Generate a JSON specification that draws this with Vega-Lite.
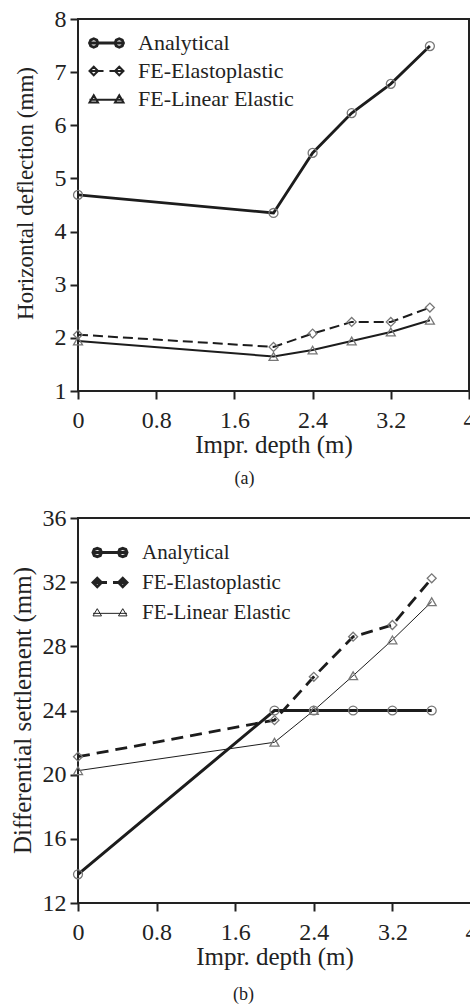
{
  "$schema": "https://vega.github.io/schema/vega-lite/v6.json",
  "padding": {"top": 6, "left": 8, "right": 0, "bottom": 0},
  "spacing": 16,
  "config": {
    "font": "Liberation Serif",
    "view": {"stroke": "#222", "strokeWidth": 2},
    "axis": {"grid": false, "domain": false, "tickColor": "#222", "tickWidth": 2, "tickSize": 8, "labelFont": "Liberation Serif", "labelFontSize": 24, "labelColor": "#222", "labelFlush": false, "labelOverlap": false, "titleFont": "Liberation Serif", "titleFontWeight": "normal", "titleColor": "#222", "titleFontSize": 25, "labelPadding": 4},
    "axisX": {"labelPadding": 9, "titlePadding": 0},
    "line": {"color": "#1c1c1c"},
    "point": {"filled": false, "color": "#777", "size": 80, "strokeWidth": 1.3, "opacity": 1},
    "legend": {"title": null, "orient": "none", "labelFont": "Liberation Serif", "labelColor": "#222", "symbolSize": 289, "padding": 0, "symbolFillColor": "transparent", "symbolStrokeColor": "#222",
      "symbolType": {"expr": "datum.value == 'Analytical' ? 'M-2,0L2,0M-1,0L-1.146,0.354L-1.5,0.5L-1.854,0.354L-2,0L-1.854,-0.354L-1.5,-0.5L-1.146,-0.354ZM2,0L1.854,0.354L1.5,0.5L1.146,0.354L1,0L1.146,-0.354L1.5,-0.5L1.854,-0.354Z' : (datum.value == 'FE-Elastoplastic' ? 'M-2,0L-0.35,0M0.35,0L2,0M-2,0L-1.5,-0.5L-1,0L-1.5,0.5ZM1,0L1.5,-0.5L2,0L1.5,0.5Z' : 'M-2,0.1L2,0.1M-2,0.4L-1.5,-0.45L-1,0.4ZM1,0.4L1.5,-0.45L2,0.4Z')"}},
    "title": {"font": "Liberation Serif", "fontWeight": "normal", "fontSize": 18, "color": "#222"}
  },
  "datasets": {
    "a": [
      {"series": "Analytical", "depth": 0, "value": 4.69},
      {"series": "Analytical", "depth": 2.0, "value": 4.35},
      {"series": "Analytical", "depth": 2.4, "value": 5.48},
      {"series": "Analytical", "depth": 2.8, "value": 6.23},
      {"series": "Analytical", "depth": 3.2, "value": 6.78},
      {"series": "Analytical", "depth": 3.6, "value": 7.49},
      {"series": "FE-Elastoplastic", "depth": 0, "value": 2.06},
      {"series": "FE-Elastoplastic", "depth": 2.0, "value": 1.83},
      {"series": "FE-Elastoplastic", "depth": 2.4, "value": 2.08},
      {"series": "FE-Elastoplastic", "depth": 2.8, "value": 2.30},
      {"series": "FE-Elastoplastic", "depth": 3.2, "value": 2.30},
      {"series": "FE-Elastoplastic", "depth": 3.6, "value": 2.57},
      {"series": "FE-Linear Elastic", "depth": 0, "value": 1.94},
      {"series": "FE-Linear Elastic", "depth": 2.0, "value": 1.65},
      {"series": "FE-Linear Elastic", "depth": 2.4, "value": 1.77},
      {"series": "FE-Linear Elastic", "depth": 2.8, "value": 1.94},
      {"series": "FE-Linear Elastic", "depth": 3.2, "value": 2.11},
      {"series": "FE-Linear Elastic", "depth": 3.6, "value": 2.33}
    ],
    "b": [
      {"series": "Analytical", "depth": 0, "value": 13.79},
      {"series": "Analytical", "depth": 2.0, "value": 24.0},
      {"series": "Analytical", "depth": 2.4, "value": 24.0},
      {"series": "Analytical", "depth": 2.8, "value": 24.0},
      {"series": "Analytical", "depth": 3.2, "value": 24.0},
      {"series": "Analytical", "depth": 3.6, "value": 24.0},
      {"series": "FE-Elastoplastic", "depth": 0, "value": 21.12},
      {"series": "FE-Elastoplastic", "depth": 2.0, "value": 23.4},
      {"series": "FE-Elastoplastic", "depth": 2.4, "value": 26.1},
      {"series": "FE-Elastoplastic", "depth": 2.8, "value": 28.6},
      {"series": "FE-Elastoplastic", "depth": 3.2, "value": 29.33},
      {"series": "FE-Elastoplastic", "depth": 3.6, "value": 32.24},
      {"series": "FE-Linear Elastic", "depth": 0, "value": 20.25},
      {"series": "FE-Linear Elastic", "depth": 2.0, "value": 22.02},
      {"series": "FE-Linear Elastic", "depth": 2.4, "value": 24.0},
      {"series": "FE-Linear Elastic", "depth": 2.8, "value": 26.17},
      {"series": "FE-Linear Elastic", "depth": 3.2, "value": 28.4},
      {"series": "FE-Linear Elastic", "depth": 3.6, "value": 30.78}
    ]
  },
  "resolve": {
    "scale": {"strokeWidth": "independent"},
    "legend": {"strokeWidth": "independent"}
  },
  "vconcat": [
    {
      "width": 391,
      "height": 372,
      "data": {"name": "a"},
      "title": {"text": "(a)", "orient": "bottom", "frame": "bounds", "anchor": "middle", "offset": 13},
      "encoding": {
        "x": {"field": "depth", "type": "quantitative", "scale": {"domain": [0, 4], "nice": false, "zero": false},
              "axis": {"values": [0, 0.8, 1.6, 2.4, 3.2, 4], "format": "~g", "title": "Impr. depth (m)"}},
        "y": {"field": "value", "type": "quantitative", "scale": {"domain": [1, 8], "nice": false, "zero": false},
              "axis": {"values": [1, 2, 3, 4, 5, 6, 7, 8], "title": "Horizontal deflection (mm)", "titleX": -53, "titleY": 174, "titleFontSize": 23, "titleBaseline": "middle", "titleAlign": "center", "titleAngle": 270}},
        "strokeWidth": {"field": "series", "type": "nominal",
          "scale": {"type": "ordinal", "domain": ["Analytical", "FE-Elastoplastic", "FE-Linear Elastic"], "range": [2.8, 2, 2]},
          "legend": {"legendX": 17.5, "legendY": 13, "labelFontSize": 22, "labelOffset": 20.5, "rowPadding": 6}}
      },
      "layer": [
        {"transform": [{"filter": "datum.series == 'Analytical'"}], "mark": {"type": "line"}},
        {"transform": [{"filter": "datum.series == 'FE-Elastoplastic'"}], "mark": {"type": "line", "strokeDash": [10, 5]}},
        {"transform": [{"filter": "datum.series == 'FE-Linear Elastic'"}], "mark": {"type": "line"}},
        {"transform": [{"filter": "datum.series == 'Analytical'"}], "mark": {"type": "point", "shape": "circle"}, "encoding": {"strokeWidth": {"value": 1.3}}},
        {"transform": [{"filter": "datum.series == 'FE-Elastoplastic'"}], "mark": {"type": "point", "shape": "diamond"}, "encoding": {"strokeWidth": {"value": 1.3}}},
        {"transform": [{"filter": "datum.series == 'FE-Linear Elastic'"}], "mark": {"type": "point", "shape": "triangle-up"}, "encoding": {"strokeWidth": {"value": 1.3}}}
      ]
    },
    {
      "width": 393,
      "height": 385,
      "data": {"name": "b"},
      "title": {"text": "(b)", "orient": "bottom", "frame": "bounds", "anchor": "middle", "offset": 17},
      "encoding": {
        "x": {"field": "depth", "type": "quantitative", "scale": {"domain": [0, 4], "nice": false, "zero": false},
              "axis": {"values": [0, 0.8, 1.6, 2.4, 3.2, 4], "format": "~g", "title": "Impr. depth (m)"}},
        "y": {"field": "value", "type": "quantitative", "scale": {"domain": [12, 36], "nice": false, "zero": false},
              "axis": {"values": [12, 16, 20, 24, 28, 32, 36], "title": "Differential settlement (mm)", "titleX": -56, "titleY": 192, "titleFontSize": 25, "titleBaseline": "middle", "titleAlign": "center", "titleAngle": 270}},
        "strokeWidth": {"field": "series", "type": "nominal",
          "scale": {"type": "ordinal", "domain": ["Analytical", "FE-Elastoplastic", "FE-Linear Elastic"], "range": [3, 2.8, 1]},
          "legend": {"legendX": 21.5, "legendY": 24, "labelFontSize": 21, "labelOffset": 21.5, "rowPadding": 8}}
      },
      "layer": [
        {"transform": [{"filter": "datum.series == 'Analytical'"}], "mark": {"type": "line"}},
        {"transform": [{"filter": "datum.series == 'FE-Elastoplastic'"}], "mark": {"type": "line", "strokeDash": [12, 7]}},
        {"transform": [{"filter": "datum.series == 'FE-Linear Elastic'"}], "mark": {"type": "line"}},
        {"transform": [{"filter": "datum.series == 'Analytical'"}], "mark": {"type": "point", "shape": "circle"}, "encoding": {"strokeWidth": {"value": 1.3}}},
        {"transform": [{"filter": "datum.series == 'FE-Elastoplastic'"}], "mark": {"type": "point", "shape": "diamond"}, "encoding": {"strokeWidth": {"value": 1.3}}},
        {"transform": [{"filter": "datum.series == 'FE-Linear Elastic'"}], "mark": {"type": "point", "shape": "triangle-up"}, "encoding": {"strokeWidth": {"value": 1.3}}}
      ]
    }
  ]
}
